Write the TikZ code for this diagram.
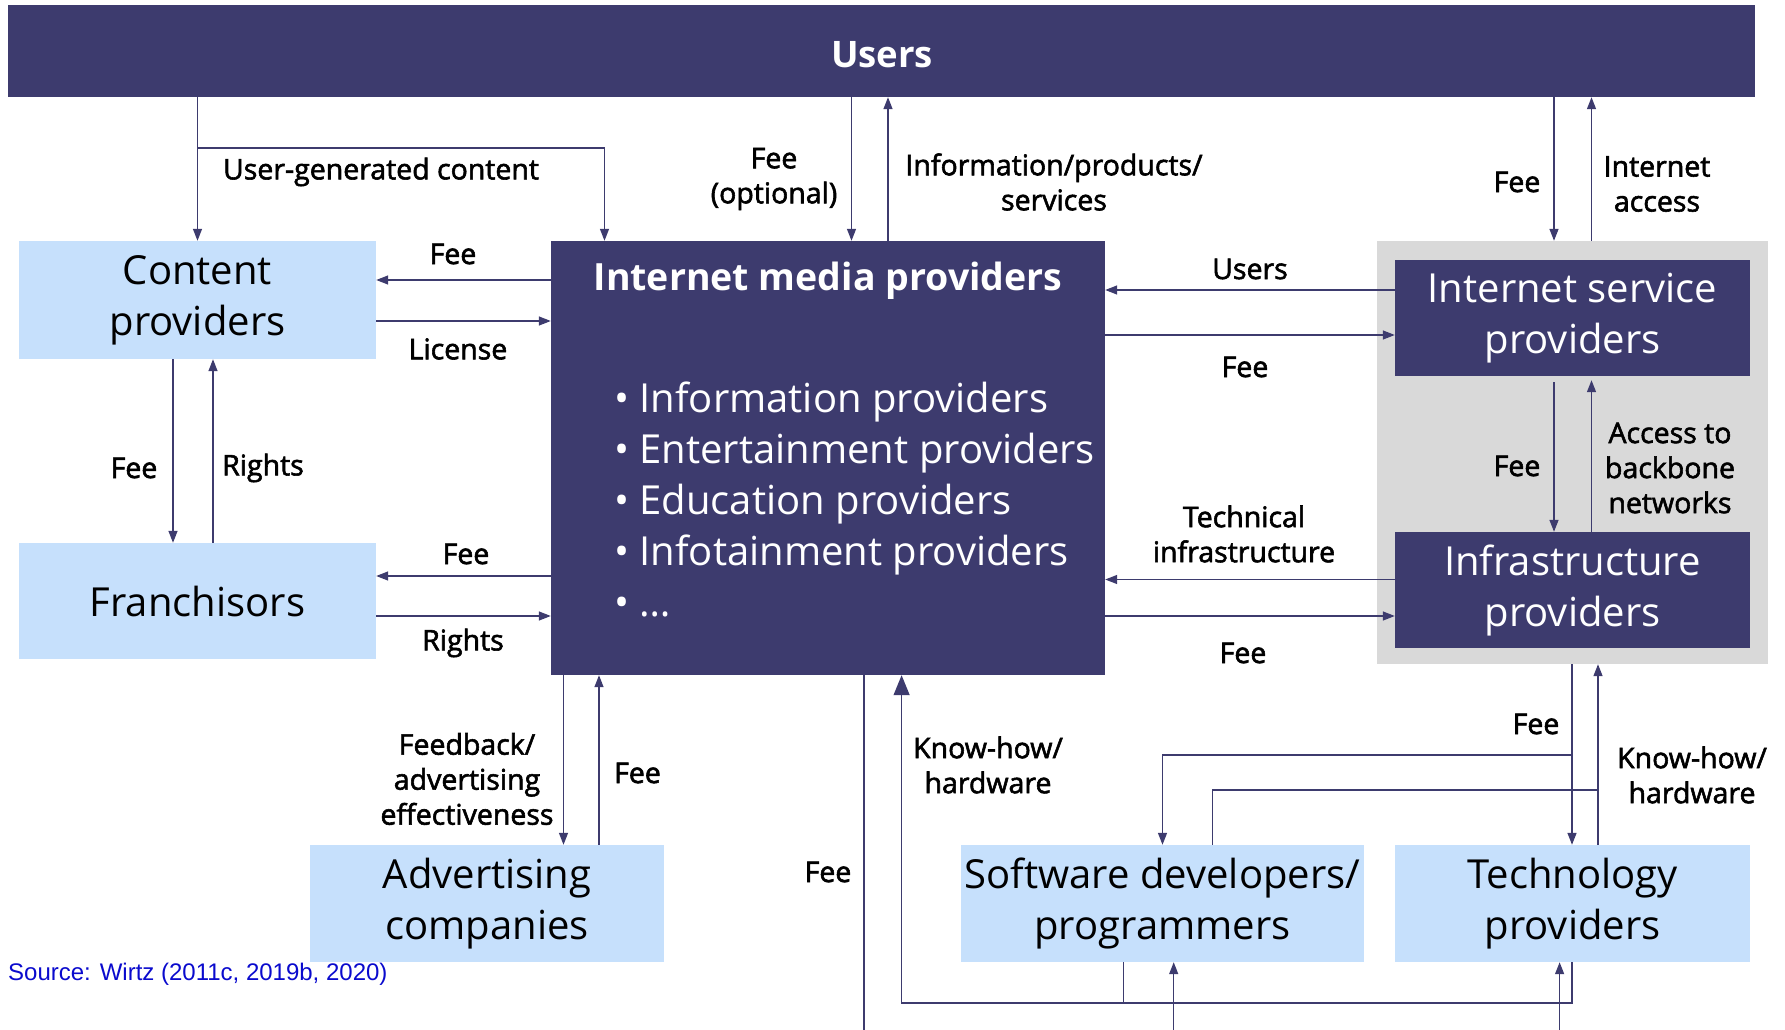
\documentclass[tikz,border=0pt]{standalone}
\usepackage{fontspec}
\setmainfont{Open Sans}
\newfontfamily\labfont{Open Sans}[FakeBold=2]
\newfontfamily\srcfont{Liberation Sans}
\usetikzlibrary{arrows.meta}
\definecolor{navy}{RGB}{61,59,110}
\definecolor{lblue}{RGB}{198,224,252}
\definecolor{gbox}{RGB}{217,217,217}
\definecolor{srcblue}{RGB}{10,10,205}
\begin{document}
\begin{tikzpicture}[x=1pt,y=-1pt,
  lightbox/.style={fill=lblue,draw=none,inner sep=0pt,align=center,text=black,
    font=\fontsize{40}{51}\selectfont},
  darkbox/.style={fill=navy,draw=none,inner sep=0pt,align=center,text=white,
    font=\fontsize{40}{51}\selectfont},
  lab/.style={align=center,inner sep=0pt,text=black,font=\labfont\fontsize{28.5}{35}\selectfont},
  arr/.style={draw=navy,line width=1.4pt,-{Triangle[length=12pt,width=9pt]}},
  bigarr/.style={draw=navy,line width=1.4pt,-{Triangle[length=20pt,width=16pt]}},
  ln/.style={draw=navy,line width=1.4pt}]
\useasboundingbox (0,0) rectangle (1785,1030);
% boxes
\node[darkbox,minimum width=1747pt,minimum height=92pt] (users) at (881.5,51) {};
\node[text=white,inner sep=0pt,font=\bfseries\fontsize{36.5}{45}\selectfont] (userst) at (882,54.5) {Users};
\node[lightbox,minimum width=357pt,minimum height=118pt] (cont) at (197.5,300) {Content\\providers};
\node[lightbox,minimum width=357pt,minimum height=116pt] (fran) at (197.5,601) {Franchisors};
\node[fill=navy,draw=none,inner sep=0pt,minimum width=554pt,minimum height=434pt] (imp) at (828,458) {};
\node[text=white,inner sep=0pt,font=\bfseries\fontsize{37.5}{45}\selectfont] (imptitle) at (828,280.5) {Internet media providers};
\node[text=white,inner sep=0pt,anchor=west,align=left,font=\fontsize{40}{51}\selectfont] (impbul) at (614,499.5)
  {• Information providers\\• Entertainment providers\\• Education providers\\• Infotainment providers\\• …};
\node[fill=gbox,draw=none,inner sep=0pt,minimum width=391pt,minimum height=423pt] (gray) at (1572.5,452.5) {};
\node[darkbox,minimum width=355pt,minimum height=116pt] (isp) at (1572.5,318) {Internet service\\providers};
\node[darkbox,minimum width=355pt,minimum height=116pt] (infra) at (1572.5,590) {Infrastructure\\providers};
\node[lightbox,minimum width=354pt,minimum height=117pt] (adv) at (487,903.5) {Advertising\\companies};
\node[lightbox,minimum width=403pt,minimum height=117pt] (soft) at (1162.5,903.5) {Software developers/\\programmers};
\node[lightbox,minimum width=355pt,minimum height=117pt] (tech) at (1572.5,903.5) {Technology\\providers};
\node[anchor=west,inner sep=0pt,text=srcblue,font=\srcfont\fontsize{24}{28}\selectfont] (src) at (8,974) {Source: Wirtz (2011c, 2019b, 2020)};
% helper coordinates
\coordinate (bot) at (0,1030);
\coordinate (yUG) at (0,148);
\coordinate (xUG) at (604.5,0);
\coordinate (xFo) at (851.5,0);
\coordinate (xIp) at (888,0);
\coordinate (xIf) at (1554,0);
\coordinate (xIa) at (1591.5,0);
\coordinate (yCf) at (0,280);
\coordinate (yCl) at (0,321);
\coordinate (xCf) at (173,0);
\coordinate (xCr) at (213,0);
\coordinate (yFf) at (0,576);
\coordinate (yFr) at (0,616);
\coordinate (yIu) at (0,290);
\coordinate (yIf) at (0,335);
\coordinate (yTi) at (0,579.5);
\coordinate (yTf) at (0,616);
\coordinate (xAf) at (563.5,0);
\coordinate (xAe) at (599,0);
\coordinate (xBf) at (864,0);
\coordinate (xKh) at (901.6,0);
\coordinate (yKh) at (0,1003);
\coordinate (xSd) at (1123.6,0);
\coordinate (xSu) at (1173.7,0);
\coordinate (xTu) at (1559.6,0);
\coordinate (xTf) at (1572,0);
\coordinate (yTf2) at (0,755);
\coordinate (xTk) at (1598,0);
\coordinate (yTk) at (0,790);
\coordinate (xSk) at (1212.4,0);
% Users connectors
\draw[arr] (users.south -| cont.north) -- (cont.north);
\draw[arr] (yUG -| cont.north) -- (yUG -| xUG) -- (xUG |- imp.north);
\draw[arr] (xFo |- users.south) -- (xFo |- imp.north);
\draw[arr] (xIp |- imp.north) -- (xIp |- users.south);
\draw[arr] (xIf |- users.south) -- (xIf |- gray.north);
\draw[arr] (xIa |- gray.north) -- (xIa |- users.south);
% content / franchisors
\draw[arr] (yCf -| imp.west) -- (yCf -| cont.east);
\draw[arr] (yCl -| cont.east) -- (yCl -| imp.west);
\draw[arr] (xCf |- cont.south) -- (xCf |- fran.north);
\draw[arr] (xCr |- fran.north) -- (xCr |- cont.south);
\draw[arr] (yFf -| imp.west) -- (yFf -| fran.east);
\draw[arr] (yFr -| fran.east) -- (yFr -| imp.west);
% ISP / infra
\draw[arr] (yIu -| isp.west) -- (yIu -| imp.east);
\draw[arr] (yIf -| imp.east) -- (yIf -| isp.west);
\draw[arr] (yTi -| infra.west) -- (yTi -| imp.east);
\draw[arr] (yTf -| imp.east) -- (yTf -| infra.west);
\draw[arr] ([yshift=-6pt]xIf |- isp.south) -- (xIf |- infra.north);
\draw[arr] (xIa |- infra.north) -- ([yshift=-4pt]xIa |- isp.south);
% advertising
\draw[arr] (xAf |- imp.south) -- (xAf |- adv.north);
\draw[arr] (xAe |- adv.north) -- (xAe |- imp.south);
% bottom
\draw[ln] (xBf |- imp.south) -- (xBf |- bot);
\draw[bigarr] (xTf |- tech.south) -- (xTf |- yKh) -- (xKh |- yKh) -- (xKh |- imp.south);
\draw[ln] (xSd |- soft.south) -- (xSd |- yKh);
\draw[arr] (xSu |- bot) -- (xSu |- soft.south);
\draw[arr] (xTu |- bot) -- (xTu |- tech.south);
\draw[arr] (xTf |- gray.south) -- (xTf |- tech.north);
\draw[arr] (yTf2 -| xTf) -- (yTf2 -| soft.north) -- (soft.north);
\draw[arr] (xTk |- tech.north) -- (xTk |- gray.south);
\draw[ln] (xSk |- soft.north) -- (xSk |- yTk) -- (yTk -| xTk);
% labels
\node[lab] (l1) at (381,172) {User-generated content};
\node[lab] (l2) at (774,179) {Fee\\(optional)};
\node[lab] (l3) at (1054,182) {Information/products/\\services};
\node[lab] (l4) at (1517,182) {Fee};
\node[lab] (l5) at (1657,184) {Internet\\access};
\node[lab] (l6) at (453,254) {Fee};
\node[lab] (l7) at (458,349) {License};
\node[lab] (l8) at (134,468) {Fee};
\node[lab] (l9) at (263,468) {Rights};
\node[lab] (l10) at (466,554) {Fee};
\node[lab] (l11) at (463,643) {Rights};
\node[lab] (l12) at (1250,269) {Users};
\node[lab] (l13) at (1245,367) {Fee};
\node[lab] (l14) at (1244,534) {Technical\\infrastructure};
\node[lab] (l15) at (1243,653) {Fee};
\node[lab] (l16) at (1517,466) {Fee};
\node[lab] (l17) at (1670,468) {Access to\\backbone\\networks};
\node[lab] (l18) at (467,779) {Feedback/\\advertising\\effectiveness};
\node[lab] (l19) at (637.5,773) {Fee};
\node[lab] (l20) at (828,872) {Fee};
\node[lab] (l21) at (988,765) {Know-how/\\hardware};
\node[lab] (l22) at (1536,724) {Fee};
\node[lab] (l23) at (1692,775) {Know-how/\\hardware};
\end{tikzpicture}
\end{document}
